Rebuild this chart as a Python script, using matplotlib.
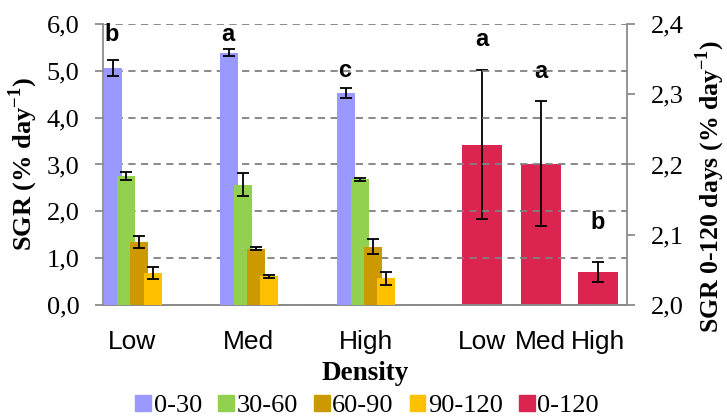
import numpy as np
import matplotlib.pyplot as plt
from matplotlib.patches import Patch
from matplotlib.ticker import FuncFormatter

plt.rcParams['font.family'] = ['Liberation Serif', 'DejaVu Serif']
plt.rcParams['mathtext.fontset'] = 'custom'
plt.rcParams['mathtext.rm'] = 'Liberation Serif'
plt.rcParams['mathtext.bf'] = 'Liberation Serif:bold'

# data
densities = ['Low', 'Med', 'High']
periods = ['0-30', '30-60', '60-90', '90-120']
sgr = [[5.06, 5.39, 4.53],
       [2.75, 2.57, 2.68],
       [1.35, 1.20, 1.24],
       [0.68, 0.61, 0.57]]
sgr_err = [[0.18, 0.07, 0.11],
           [0.08, 0.25, 0.04],
           [0.13, 0.03, 0.16],
           [0.13, 0.04, 0.14]]
sig_left = ['b', 'a', 'c']

total = [2.228, 2.201, 2.047]
total_err = [0.106, 0.089, 0.014]
sig_right = ['a', 'a', 'b']

colors = ['#9999FF', '#92D050', '#CC9900', '#FFC000']
red = '#DC2450'

sans = 'Liberation Sans'

fig = plt.figure(figsize=(7.27, 4.2), dpi=100)
ax = fig.add_axes([0.1417, 0.2738, 0.7207, 0.6691])
ax2 = ax.twinx()

x = np.arange(3)
offsets = [-0.168, -0.05, 0.06, 0.175]
w = 0.155
for i in range(4):
    ax.bar(x + offsets[i], sgr[i], w, color=colors[i], zorder=3 + i)
    ax.errorbar(x + offsets[i], sgr[i], yerr=sgr_err[i], fmt='none', ecolor='black',
                elinewidth=1.3, capsize=4, capthick=1.3, zorder=10)

# significance letters above the 0-30 bars
letter_y = [5.78, 5.78, 5.0]
for j in range(3):
    ax.text(x[j] + offsets[0] - 0.01, letter_y[j], sig_left[j], ha='center', va='center',
            fontsize=17, fontweight='bold', family=sans, zorder=12)

xr = np.array([3.0, 3.5, 3.99])
ax2.bar(xr, total, 0.343, color=red, zorder=3)
ax2.errorbar(xr, total, yerr=total_err, fmt='none', ecolor='black',
             elinewidth=1.3, capsize=4, capthick=1.3, zorder=10)
right_y = [2.378, 2.332, 2.117]
for j in range(3):
    ax2.text(xr[j], right_y[j], sig_right[j], ha='center', va='center', fontsize=17,
             fontweight='bold', family=sans)

ax.set_xlim(-0.25, 4.24)
ax.set_ylim(0, 6)
ax2.set_ylim(2.0, 2.4)
ax.set_yticks(np.arange(0, 7, 1))
ax2.set_yticks(np.arange(2.0, 2.41, 0.1))
comma = FuncFormatter(lambda v, p: f'{v:.1f}'.replace('.', ','))
ax.yaxis.set_major_formatter(comma)
ax2.yaxis.set_major_formatter(comma)

ax.grid(axis='y', linestyle=(0, (4, 3)), color='#808080', linewidth=1.3, zorder=0)
ax.set_axisbelow(True)
ax.set_zorder(ax2.get_zorder() + 1)
ax.patch.set_visible(False)

for a in (ax, ax2):
    a.spines['top'].set_visible(False)
    for s in ('left', 'right', 'bottom'):
        a.spines[s].set_color('#8c8c8c')
        a.spines[s].set_linewidth(1.3)
    a.tick_params(axis='y', length=6, width=1.3, color='#8c8c8c', labelsize=19, pad=11)
ax.spines['right'].set_visible(False)
ax2.spines['left'].set_visible(False)

ax.set_xticks(list(x) + list(xr))
ax.set_xticklabels(densities + densities, family=sans, fontsize=19)
ax.tick_params(axis='x', length=0, pad=18)

ax.set_ylabel('SGR (% day$^{\\mathbf{-1}}$)', fontweight='bold', fontsize=19, labelpad=5)
ax2.set_ylabel('SGR 0-120 days (% day$^{\\mathbf{-1}}$)', fontweight='bold', fontsize=18.5)
ax2.yaxis.set_label_coords(1.128, 0.42)
ax.set_xlabel('Density', fontweight='bold', fontsize=19.5, labelpad=5)

handles = [Patch(color=c) for c in colors] + [Patch(color=red)]
fig.legend(handles, periods + ['0-120'], loc='lower center', bbox_to_anchor=(0.505, -0.05),
           ncol=5, frameon=False, handlelength=0.6, handleheight=0.6, handletextpad=0.1,
           columnspacing=0.6, prop={'size': 19})

fig.savefig('out.png', dpi=100)
